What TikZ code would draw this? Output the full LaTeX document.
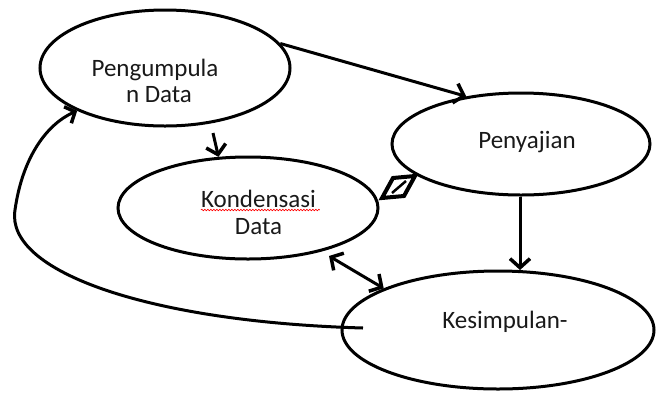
\documentclass[tikz,border=0pt]{standalone}
\usepackage{fontspec}
\setmainfont{Carlito}
\usetikzlibrary{shapes.geometric,arrows.meta,decorations.pathmorphing}
\begin{document}
\begin{tikzpicture}[x=1pt,y=-1pt,
  oval/.style={ellipse,draw,line width=3pt,inner sep=0pt},
  conn/.style={line width=3pt,-{Straight Barb[length=9pt,width=20pt,line width=3.5pt]}},
  dconn/.style={line width=3pt,{Straight Barb[length=9pt,width=20pt,line width=3.5pt]}-{Straight Barb[length=9pt,width=20pt,line width=3.5pt]}},
  lbl/.style={font=\fontsize{25}{29}\selectfont,text=black!90,anchor=base,inner sep=0pt}]
\useasboundingbox (0,0) rectangle (657,392);
\node[oval,minimum width=250pt,minimum height=116pt] (pd) at (165,68) {};
\node[oval,minimum width=260pt,minimum height=102pt] (kd) at (248,208) {};
\node[oval,minimum width=258pt,minimum height=102pt] (py) at (521,144) {};
\node[oval,minimum width=312pt,minimum height=118pt] (ks) at (498,330) {};
\node[lbl] (t1) at (155,76) {Pengumpula};
\node[lbl] (t2) at (159,102) {n Data};
\node[lbl] (t3) at (258.5,207) {Kondensasi};
\node[lbl] (t4) at (258.5,234) {Data};
\node[lbl] (t5) at (527,148) {Penyajian};
\node[lbl] (t6) at (505,328) {Kesimpulan-};
\draw[red,line width=0.6pt,decorate,decoration={snake,amplitude=0.8pt,segment length=3pt}] (t3.base west) ++(0,3) -- ++(119,0);
% connectors
\coordinate (c1) at (213,133);
\coordinate (c2) at (363,328);
\coordinate (c3) at (329,256);
\draw[conn] (pd.12) -- (py.139);
\draw[conn] (c1) -- (kd.120);
\draw[conn] (py.south -| 520,0) -- (520,270);
\draw[dconn] (c3) -- (ks.160);
\draw[conn,-{Straight Barb[length=8pt,width=18pt,line width=3.5pt]}] (c2) .. controls (150,322) and (5,272) .. (15,210) .. controls (22,160) and (45,125) .. (pd.-154);
% diamond symbol
\coordinate (d1) at (382,198);
\coordinate (d2) at (393,178);
\coordinate (d3) at (415,176);
\coordinate (d4) at (404,196);
\draw[line width=4pt,line join=miter] (d1) -- (d2) -- (d3) -- (d4) -- cycle;
\draw[line width=2.5pt] (392,193) -- (406,181);
\end{tikzpicture}
\end{document}
